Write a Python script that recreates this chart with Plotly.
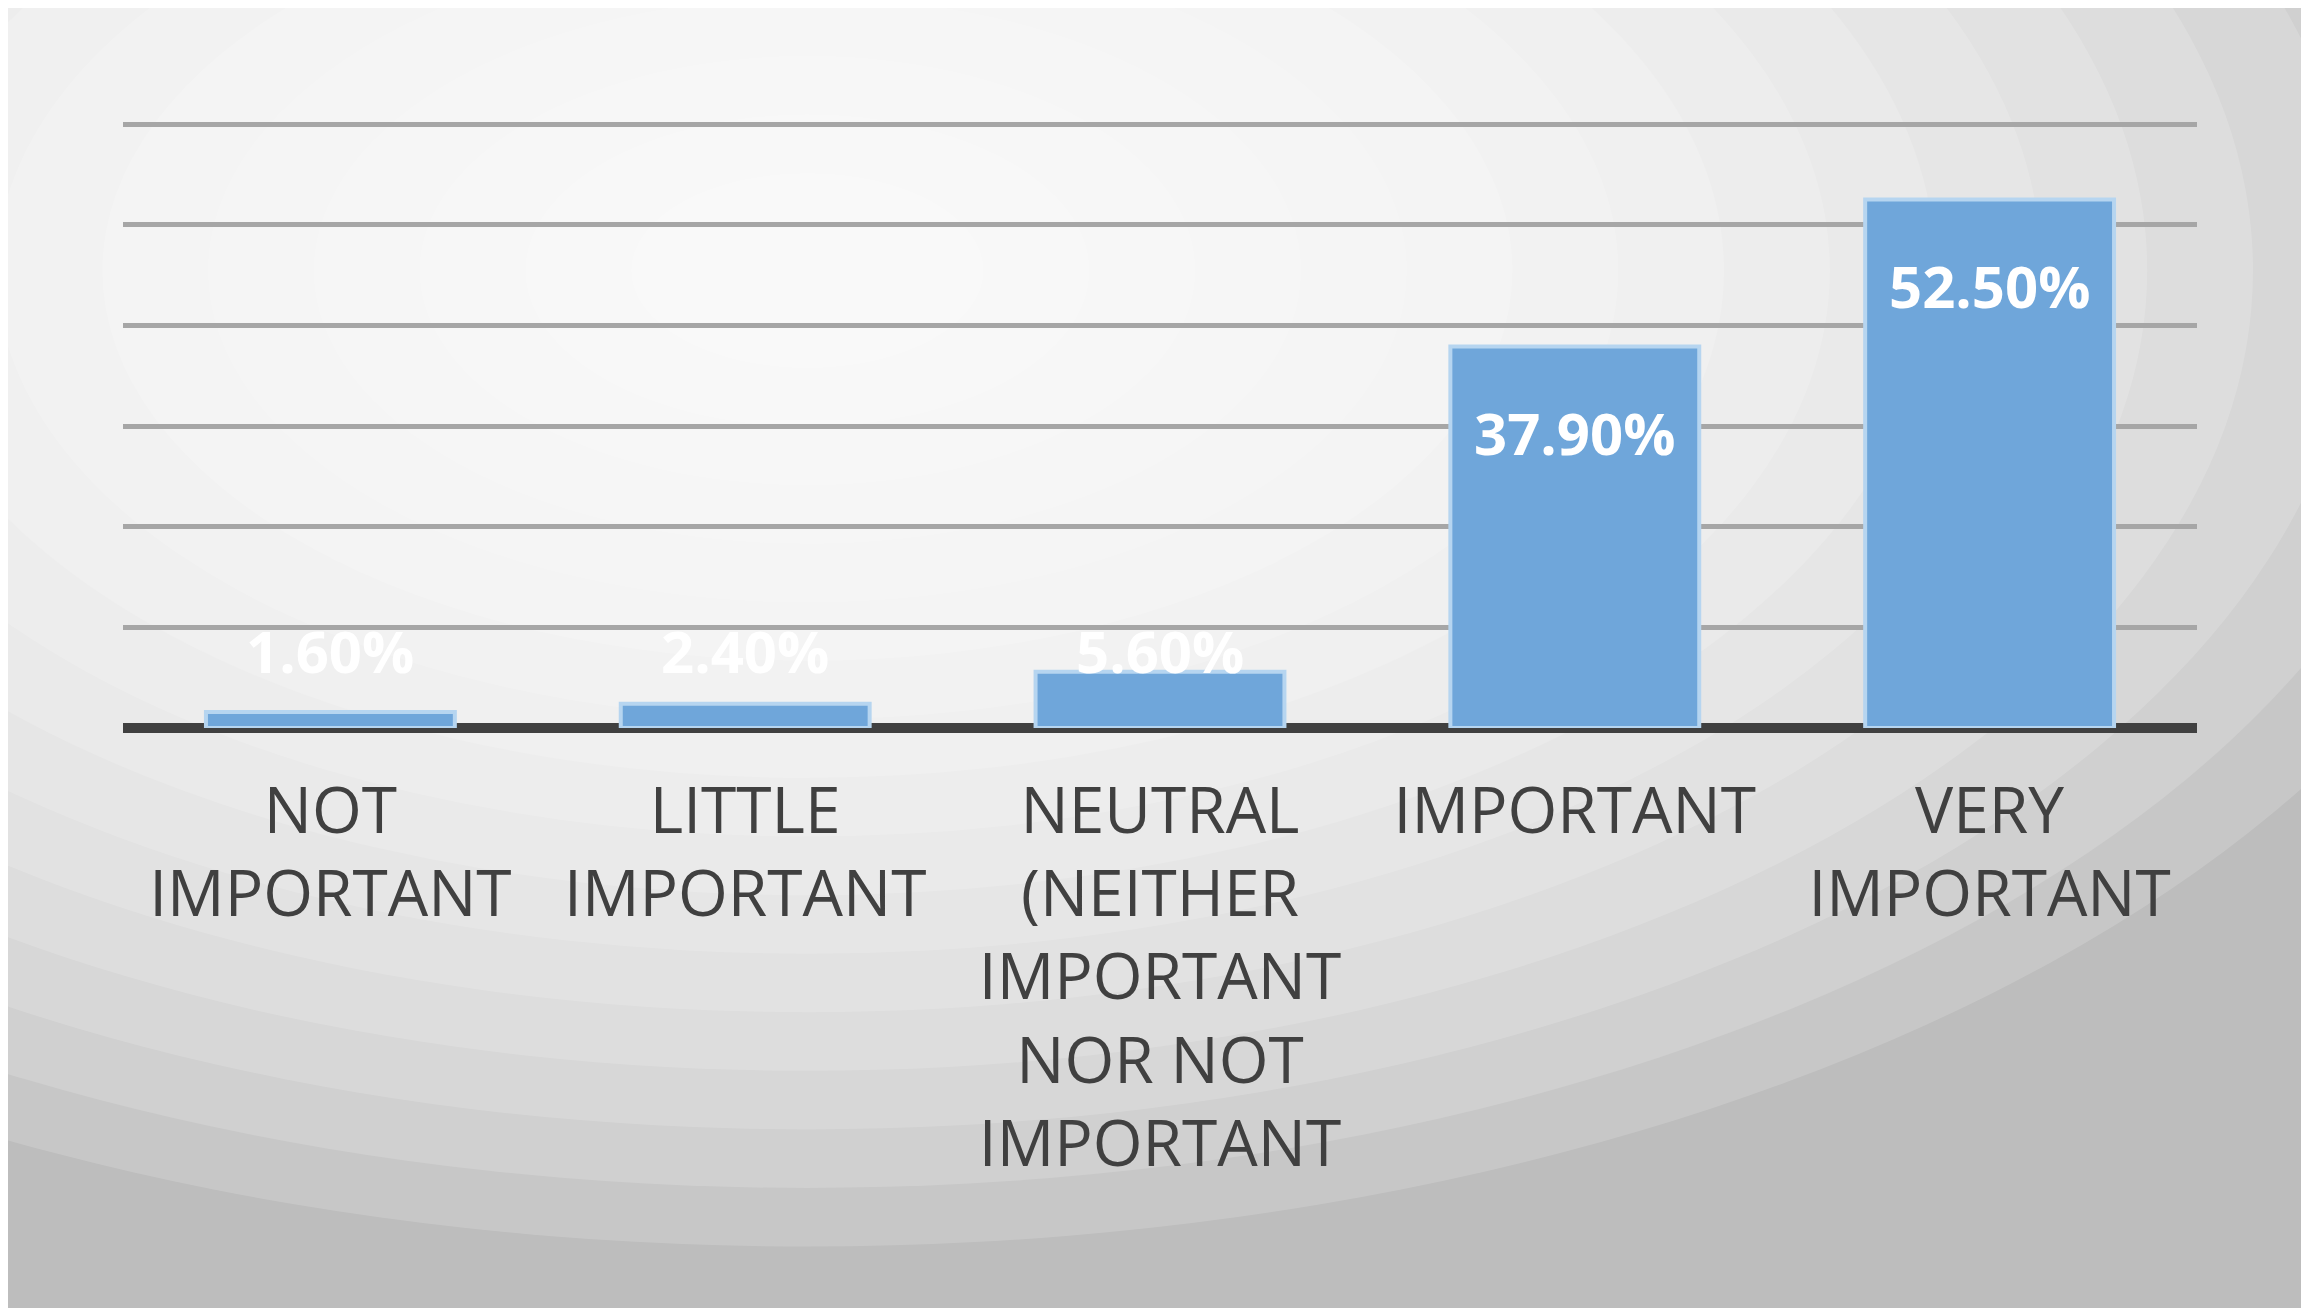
import plotly.graph_objects as go

categories = ["NOT<br>IMPORTANT", "LITTLE<br>IMPORTANT",
              "NEUTRAL<br>(NEITHER<br>IMPORTANT<br>NOR NOT<br>IMPORTANT", "IMPORTANT", "VERY<br>IMPORTANT"]
values = [1.6, 2.4, 5.6, 37.9, 52.5]
labels = ["1.60%", "2.40%", "5.60%", "37.90%", "52.50%"]

fig = go.Figure()
fig.add_trace(go.Bar(x=categories, y=values, width=0.6,
                     marker=dict(color="#6fa6da", line=dict(color="#b6d5f0", width=4))))

for c, v, t in zip(categories, values, labels):
    fig.add_annotation(x=c, y=max(v - 8.5, 7.7), text="<b>" + t + "</b>", showarrow=False,
                       font=dict(family="Open Sans", size=58, color="white"))

shapes = [dict(type="rect", xref="paper", yref="paper", x0=-0.1, x1=1.1, y0=-1.5, y1=1.3,
               fillcolor="#bdbdbd", line_width=0, layer="below")]
for i in range(16):
    r = 1.0 - i * 0.06
    shapes.append(dict(type="circle", xref="paper", yref="paper",
                       x0=0.33 - 0.85 * r, x1=0.33 + 0.85 * r, y0=0.75 - 1.6 * r, y1=0.75 + 1.6 * r,
                       fillcolor="white", opacity=0.16, line_width=0, layer="below"))
fig.update_layout(shapes=shapes)

fig.update_layout(
    width=2309, height=1308,
    margin=dict(l=115, r=120, t=110, b=588),
    paper_bgcolor="#c4c4c4", plot_bgcolor="rgba(0,0,0,0)",
    showlegend=False, bargap=0.4,
    xaxis=dict(showline=False, ticks="", tickfont=dict(family="Open Sans", size=64, color="#404040"),
               tickangle=0, ticklabelstandoff=40),
    yaxis=dict(range=[0, 60.6], dtick=10, showticklabels=False, gridcolor="#a6a6a6", gridwidth=5,
               zeroline=True, zerolinecolor="#404040", zerolinewidth=10),
)
fig.write_html("out.html")
